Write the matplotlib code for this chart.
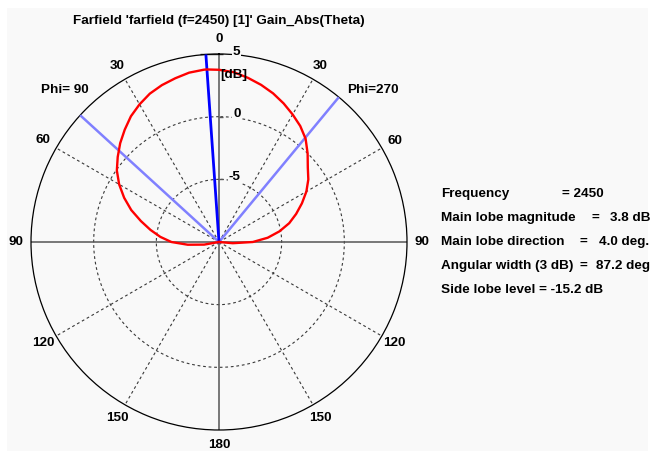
import numpy as np
import matplotlib
matplotlib.use("Agg")
import matplotlib.pyplot as plt
from matplotlib.patches import Rectangle
from matplotlib.transforms import offset_copy

# ---- data ---------------------------------------------------------------
# theta in degrees, positive toward the Phi=90 half plane, negative toward Phi=270
theta_deg = [-180, -165, -150, -135, -120, -110, -100, -95, -90, -85, -80, -75,
             -70, -65, -60, -55, -50, -45, -40, -35, -30, -25, -20, -15, -10,
             -5, 0, 4, 5, 10, 15, 20, 25, 30, 35, 40, 45, 50, 55, 60, 65, 70,
             75, 80, 85, 90, 95, 100, 105, 110, 120, 135, 150, 165, 180]
gain_db = [-11.4, -11.8, -12.5, -13.5, -15.0, -13.0, -10.5, -8.9, -7.3, -6.1,
           -5.1, -4.2, -3.45, -2.7, -1.95, -1.3, -0.75, 0.0, 0.75, 1.3, 1.75,
           2.2, 2.62, 2.98, 3.3, 3.6, 3.74, 3.8, 3.8, 3.72, 3.52, 3.32, 3.06,
           2.68, 2.25, 1.7, 1.15, 0.55, -0.05, -0.8, -1.65, -2.55, -3.55,
           -4.45, -5.3, -6.2, -7.5, -8.8, -10.2, -12.0, -16.5, -15.5, -14.0,
           -12.5, -11.4]

angle_ticks = [0, 30, 60, 90, 120, 150, 180]
r_ticks = [-5, 0, 5]
r_min, r_max = -10, 5

frequency = 2450
main_lobe_mag = 3.8
main_lobe_dir = 4.0
beam_width = 87.2
side_lobe = -15.2

title = "Farfield 'farfield (f=2450) [1]' Gain_Abs(Theta)"

# ---- style --------------------------------------------------------------
FONT = dict(family="Liberation Sans", weight="bold", size=9.7)
PANEL = "#f9f9f9"

W, H = 651, 451
fig = plt.figure(figsize=(W / 100, H / 100), dpi=100, facecolor="white")
fig.patches.append(Rectangle((7 / W, 0), 641 / W, 1 - 8 / H,
                             transform=fig.transFigure, facecolor=PANEL,
                             edgecolor="none", zorder=-5))

cx, cy, R = 219, 242, 188
ax = fig.add_axes([(cx - R) / W, (H - cy - R) / H, 2 * R / W, 2 * R / H],
                  projection="polar")
ax.set_theta_zero_location("N")
ax.set_theta_direction(1)
ax.set_rlim(r_min, r_max)
ax.set_facecolor(PANEL)
ax.grid(False)
ax.set_xticks([])
ax.set_yticks([])
ax.spines["polar"].set_color("black")
ax.spines["polar"].set_linewidth(0.9)

# dashed rings
ring = np.linspace(0, 2 * np.pi, 361)
for r in r_ticks[:-1]:
    ax.plot(ring, np.full_like(ring, r), color="#383838", lw=0.8,
            ls=(0, (2.5, 2.5)), zorder=1)

# dashed spokes
for a in angle_ticks[1:-1]:
    if a == 90:
        continue
    for s in (1, -1):
        ax.plot([np.deg2rad(s * a)] * 2, [r_min, r_max], color="#383838",
                lw=0.8, ls=(0, (2.5, 2.5)), zorder=1)

# solid axes through the centre
for a in (0, 90):
    ax.plot([np.deg2rad(a)] * 2, [r_min, r_max], color="#555555", lw=1.1, zorder=2)
    ax.plot([np.deg2rad(a + 180)] * 2, [r_min, r_max], color="#555555", lw=1.1, zorder=2)

# small ticks on the radial scale
tick_marker = [(0, 0), (1, 0)]
for r in r_ticks[:-1]:
    ax.plot([0], [r], marker=tick_marker, ms=6, mew=1, color="#555555",
            clip_on=False, zorder=2)
ax.plot([0], [r_max], marker=[(-1, 0), (0.2, 0)], ms=28, mew=1, color="#303030",
        clip_on=False, zorder=2)

# beam width and main lobe direction
half = beam_width / 2
for a in (main_lobe_dir + half, main_lobe_dir - half):
    ax.plot([np.deg2rad(a)] * 2, [r_min, r_max], color="#8080ff", lw=1.8, zorder=3)
ax.plot([np.deg2rad(main_lobe_dir)] * 2, [r_min, r_max], color="#0000ff", lw=2.0,
        zorder=4)

# gain pattern, clipped at the centre of the scale
th = np.deg2rad(theta_deg)
g = np.maximum(np.array(gain_db), r_min)
ax.plot(th, g, color="#ff0000", lw=1.7, zorder=5)

# angle labels
r_lab = r_min + 203 / R * (r_max - r_min)
for a in angle_ticks:
    for s in ((1,) if a in (0, 180) else (1, -1)):
        ax.text(np.deg2rad(s * a), r_lab, str(a), ha="center", va="center",
                clip_on=False, **FONT)

r_phi = r_min + 216 / R * (r_max - r_min)
ax.text(np.deg2rad(45.4), r_phi, "Phi= 90", ha="center", va="center",
        clip_on=False, **FONT)
ax.text(np.deg2rad(-45.4), r_phi, "Phi=270", ha="center", va="center",
        clip_on=False, **FONT)

# radial scale labels
lab_tr = offset_copy(ax.transData, fig=fig, x=21.5, y=2.5, units="dots")
for r in r_ticks:
    ax.text(0, r, str(r), transform=lab_tr, ha="right", va="center",
            clip_on=False, zorder=6,
            bbox=dict(boxstyle="square,pad=0.05", fc=PANEL, ec="none"), **FONT)
db_tr = offset_copy(ax.transData, fig=fig, x=1, y=-21, units="dots")
ax.text(0, r_max, "[dB]", transform=db_tr, ha="left", va="center",
        clip_on=False, zorder=6, **FONT)

# title
fig.text(cx / W, 1 - 21 / H, title, ha="center", va="center", **FONT)

# summary block: (label, x of "=", value, right edge of value)
rows = [
    ("Frequency", None, f"= {frequency}", 604),
    ("Main lobe magnitude", 591, f"{main_lobe_mag:.1f} dB", 650),
    ("Main lobe direction", 579, f"{main_lobe_dir:.1f} deg.", 649),
    ("Angular width (3 dB)", 580, f"{beam_width:.1f} deg", 650),
    (f"Side lobe level = {side_lobe:.1f} dB", None, None, None),
]
for i, (label, xeq, value, xval) in enumerate(rows):
    y = 1 - (194 + 24 * i) / H
    fig.text(441 / W, y, label, ha="left", va="center", **FONT)
    if xeq is not None:
        fig.text(xeq / W, y, "=", ha="left", va="center", **FONT)
    if value is not None:
        fig.text(xval / W, y, value, ha="right", va="center", **FONT)

fig.savefig("out.png", dpi=100, facecolor="white")
